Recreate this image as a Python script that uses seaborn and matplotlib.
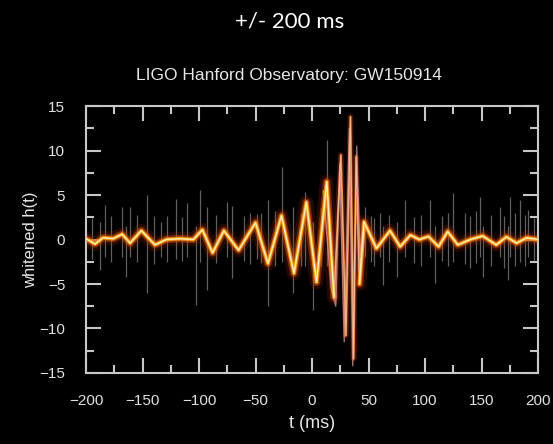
import matplotlib
matplotlib.use("Agg")
import matplotlib.pyplot as plt
import numpy as np
import pandas as pd
import seaborn as sns

# whitened strain at the turning points (ms, h)
wave_t = [-200, -192, -185, -176, -168, -161, -151, -139, -129, -117, -105, -97, -88, -78, -65,
          -50, -39, -27, -16, -5, 4, 13, 19.5, 25.5, 30, 34, 36.8, 39, 42, 46, 57, 69, 78, 87,
          95, 103, 112, 120, 129, 140, 151, 163, 172, 181, 190, 200]
wave_h = [0.1, -0.5, 0.2, 0.1, 0.6, -0.4, 1.0, -0.6, 0.0, 0.1, 0.0, 1.1, -1.5, 1.0, -1.2,
          1.9, -2.7, 2.7, -3.8, 4.2, -4.8, 6.5, -6.5, 9.5, -10.8, 13.8, -13.4, 9.3, -5.0, 2.0, -1.0, 1.0, -0.8, 0.5,
          0.0, 0.35, -0.8, 0.9, -0.6, 0.0, 0.4, -0.6, 0.3, -0.4, 0.2, 0.0]

# second faint template around the merger
tmpl_t = [10, 17, 21, 24.5, 28.5, 33, 36, 39.5, 43, 47]
tmpl_h = [5.5, -5.5, -7.5, 8.5, -11.5, 12.5, -14.2, 10.5, -4.0, 1.5]

# raw-data spikes (ms, bottom, top)
spike_t = [-195, -188, -183, -178, -168, -165, -161, -155, -146, -140, -134, -128, -120, -115, -111,
           -103, -99, -93, -85, -75, -71, -60, -55, -49, -45, -39, -33, -27, -17, -10, -6, 1, 8, 13,
           47, 52, 55, 60, 63, 68, 75, 82, 90, 96, 104, 109, 115, 120, 125, 135, 140, 145, 149, 151,
           158, 166, 170, 173, 175, 180, 184, 188, 191, 196]
spike_lo = [-2.2, -3.4, -2.0, -2.5, -2.0, -4.2, -2.0, -2.5, -6.0, -2.8, -2.0, -2.5, -2.2, -2.4, -2.0,
            -7.4, -2.5, -5.7, -2.6, -2.0, -4.3, -2.4, -2.8, -2.2, -2.6, -7.5, -3.0, -2.5, -6.0, -3.0, -3.0, -7.9, -3.0, -3.0,
            -2.0, -2.5, -3.0, -2.0, -5.1, -2.5, -4.2, -2.0, -2.6, -3.0, -2.0, -4.9, -2.4, -3.0, -2.5, -2.8, -3.2, -2.6, -2.0, -4.2,
            -3.0, -2.0, -3.2, -4.5, -2.0, -3.0, -2.5, -3.0, -2.0, -2.4]
spike_hi = [2.4, 2.0, 3.9, 2.6, 3.7, 1.5, 3.7, 2.8, 5.0, 2.6, 2.0, 2.7, 4.6, 2.5, 4.1,
            1.5, 5.6, 3.7, 2.8, 4.2, 3.8, 2.6, 3.0, 2.9, 3.0, 4.4, 3.2, 8.2, 3.7, 3.0, 5.4, 2.0, 3.5, 11.2,
            3.7, 2.6, 2.4, 3.0, 1.5, 2.8, 2.0, 4.4, 2.5, 2.8, 4.4, 1.5, 2.6, 3.0, 5.2, 3.0, 2.6, 3.2, 4.8, 1.5,
            2.8, 3.7, 2.6, 1.5, 4.8, 3.0, 4.4, 2.8, 3.3, 2.4]

x_ticks = [-200, -150, -100, -50, 0, 50, 100, 150, 200]
y_ticks = [-15, -10, -5, 0, 5, 10, 15]

sns.set_theme(style="dark", rc={
    "figure.facecolor": "black",
    "axes.facecolor": "black",
    "axes.edgecolor": "#c8c8c8",
    "axes.linewidth": 1.5,
    "text.color": "#e6e6e6",
    "axes.labelcolor": "#e6e6e6",
    "xtick.color": "#c8c8c8",
    "ytick.color": "#c8c8c8",
    "xtick.bottom": True, "xtick.top": True,
    "ytick.left": True, "ytick.right": True,
    "xtick.direction": "in", "ytick.direction": "in",
    "lines.solid_joinstyle": "round",
})
plt.rcParams["font.family"] = ["Liberation Sans", "DejaVu Sans"]

wave = pd.DataFrame({"t": wave_t, "h": wave_h})
tmpl = pd.DataFrame({"t": tmpl_t, "h": tmpl_h})
early = wave[wave.t <= 19.5]
late = wave[wave.t >= 42]
merger = wave[(wave.t >= 13) & (wave.t <= 46)]

fig = plt.figure(figsize=(5.53, 4.44), dpi=100)
ax = fig.add_axes([0.1555, 0.16, 0.8175, 0.601])

ax.vlines(spike_t, spike_lo, spike_hi, color="#8a8a8a", lw=0.9, alpha=0.7, zorder=1)

# glow built from stacked lines
for part in (early, late):
    sns.lineplot(data=part, x="t", y="h", ax=ax, sort=False, color="#a02a00", lw=10, alpha=0.22, zorder=2)
    sns.lineplot(data=part, x="t", y="h", ax=ax, sort=False, color="#e05000", lw=5.5, alpha=0.45, zorder=2)
    sns.lineplot(data=part, x="t", y="h", ax=ax, sort=False, color="#f58a10", lw=3.0, alpha=0.85, zorder=3)
    sns.lineplot(data=part, x="t", y="h", ax=ax, sort=False, color="#ffc850", lw=1.6, alpha=0.95, zorder=5)
    sns.lineplot(data=part, x="t", y="h", ax=ax, sort=False, color="#fff4c0", lw=0.7, zorder=6)

# thinner, browner strands at the merger
sns.lineplot(data=merger, x="t", y="h", ax=ax, sort=False, color="#8a2a10", lw=4, alpha=0.5, zorder=2)
sns.lineplot(data=merger, x="t", y="h", ax=ax, sort=False, color="#e88030", lw=1.6, alpha=0.9, zorder=4)
sns.lineplot(data=tmpl, x="t", y="h", ax=ax, sort=False, color="#e9a0a0", lw=1.0, alpha=0.7, zorder=4)
sns.lineplot(data=merger, x="t", y="h", ax=ax, sort=False, color="#f5d0b0", lw=0.6, alpha=0.8, zorder=5)

ax.set_xlim(-200, 200)
ax.set_ylim(-15, 15)
ax.set_xticks(x_ticks)
ax.set_yticks(y_ticks)
ax.set_xticks(np.arange(-175, 200, 50), minor=True)
ax.set_yticks(np.arange(-12.5, 15, 5), minor=True)
ax.tick_params(which="both", direction="in", bottom=True, left=True, top=True, right=True,
               width=1.5, labelsize=11, pad=15, labelcolor="#e0e0e0")
ax.tick_params(which="major", length=11)
ax.tick_params(which="minor", length=6)
ax.grid(False)
for s in ax.spines.values():
    s.set_visible(True)

ax.set_xlabel("t (ms)", fontsize=13, labelpad=5)
ax.set_ylabel("whitened h(t)", fontsize=12, labelpad=1)

fig.text(0.524, 0.952, "+/- 200 ms", ha="center", va="center", fontsize=16,
         family=["Lato", "DejaVu Sans"], color="white")
fig.text(0.522, 0.829, "LIGO Hanford Observatory: GW150914", ha="center", va="center",
         fontsize=12.5, color="#e6e6e6")

fig.savefig("out.png", dpi=100, facecolor="black")
